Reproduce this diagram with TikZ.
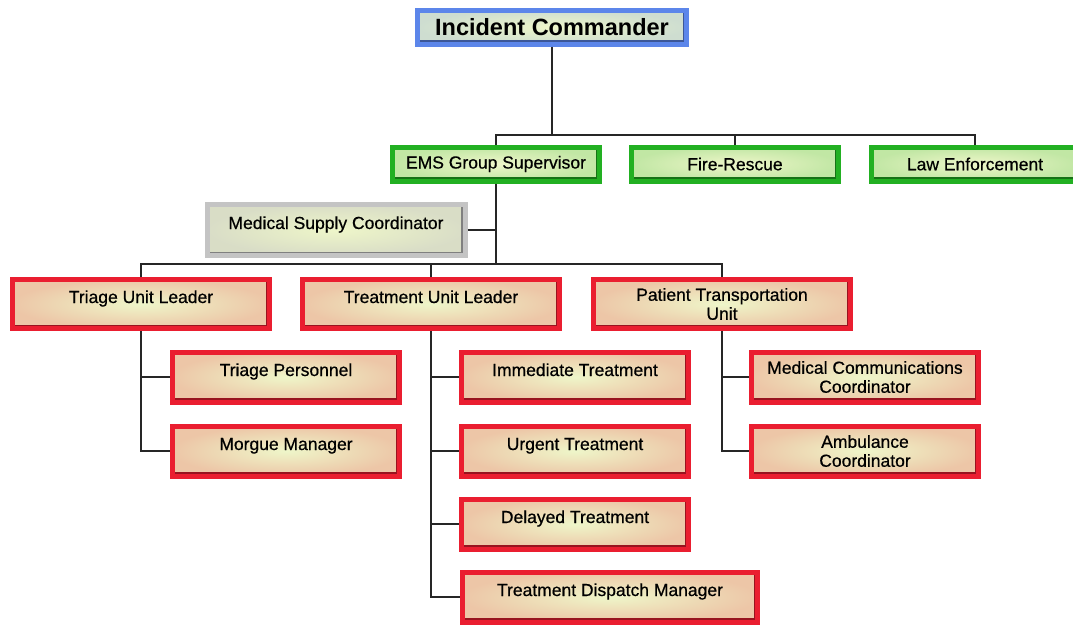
\documentclass[tikz,border=0pt]{standalone}
\usepackage{fontspec}
\setmainfont{Liberation Sans}
\newfontfamily\heavyfont{Liberation Sans}[FakeBold=0.6]
\usepackage{tikz}

\definecolor{boxfill}{HTML}{EEF6C9}
\definecolor{icblue}{HTML}{5C86EA}
\definecolor{emsgreen}{HTML}{22B022}
\definecolor{unitred}{HTML}{EA1E30}
\definecolor{supgrey}{HTML}{C4C4C4}

\begin{document}
\begin{tikzpicture}[x=1pt,y=-1pt,
  box/.style={draw=#1,line width=5pt,inner color=boxfill,outer color=#1!22!boxfill,
    align=center,font=\heavyfont\fontsize{17.5}{19}\selectfont,inner sep=0pt,
    path picture={\draw[#1!65!black,line width=1.6pt]
      ([xshift=1pt,yshift=3.2pt]path picture bounding box.south west)
      -- ([xshift=-3.2pt,yshift=3.2pt]path picture bounding box.south east)
      -- ([xshift=-3.2pt,yshift=-1pt]path picture bounding box.north east);}},
  big/.style={box=#1,minimum width=257,minimum height=49},
  small/.style={box=#1,minimum width=227,minimum height=50},
  top/.style={box=#1,minimum width=207,minimum height=34},
  oneline/.style={text height=13pt,text depth=15pt},
  link/.style={line width=1.3pt,black!85}]
\useasboundingbox (0,0) rectangle (1073,625);

% top of the chart
\node[box=icblue,minimum width=269,minimum height=34,font=\bfseries\fontsize{23.5}{25}\selectfont] (ic) at (552,27) {Incident Commander};
\node[top=emsgreen] (ems) at (496,164) {EMS Group Supervisor};
\node[top=emsgreen] (fire) at (735,164) {Fire-Rescue};
\node[top=emsgreen] (law) at (975,164) {Law Enforcement};
\node[box=supgrey,outer color=supgrey!50!boxfill,minimum width=258,minimum height=51,oneline] (supply) at (336,230) {Medical Supply Coordinator};

% unit leaders
\node[big=unitred,oneline] (triage) at (141,304) {Triage Unit Leader};
\node[big=unitred,oneline] (treat) at (431,304) {Treatment Unit Leader};
\node[big=unitred] (trans) at (722,304) {Patient Transportation\\Unit};

% staff
\node[small=unitred,oneline] (tpers) at (286,377) {Triage Personnel};
\node[small=unitred,oneline] (morgue) at (286,451) {Morgue Manager};
\node[small=unitred,oneline] (immed) at (575,377) {Immediate Treatment};
\node[small=unitred,oneline] (urgent) at (575,451) {Urgent Treatment};
\node[small=unitred,oneline] (delay) at (575,524) {Delayed Treatment};
\node[small=unitred,oneline,minimum width=295] (disp) at (610,597) {Treatment Dispatch Manager};
\node[small=unitred] (comm) at (865,377) {Medical Communications\\Coordinator};
\node[small=unitred] (amb) at (865,451) {Ambulance\\Coordinator};

% junctions
\coordinate (j1) at (552,135);
\coordinate (j2) at (496,264);

\draw[link] (ic) -- (j1);
\draw[link] (ems.north) |- (j1) -| (law.north);
\draw[link] (fire.north) -- (fire.north |- j1);
\draw[link] (ems) -- (j2);
\draw[link] (supply) -- (supply -| j2);
\draw[link] (triage.north) |- (j2) -| (trans.north);
\draw[link] (treat.north) -- (treat.north |- j2);
\draw[link] (triage.south) |- (morgue.west);
\draw[link] (tpers.west) -- (tpers.west -| triage.south);
\draw[link] (treat.south) |- (disp.west);
\foreach \n in {immed,urgent,delay}
  \draw[link] (\n.west) -- (\n.west -| treat.south);
\draw[link] (trans.south) |- (amb.west);
\draw[link] (comm.west) -- (comm.west -| trans.south);
\end{tikzpicture}
\end{document}
